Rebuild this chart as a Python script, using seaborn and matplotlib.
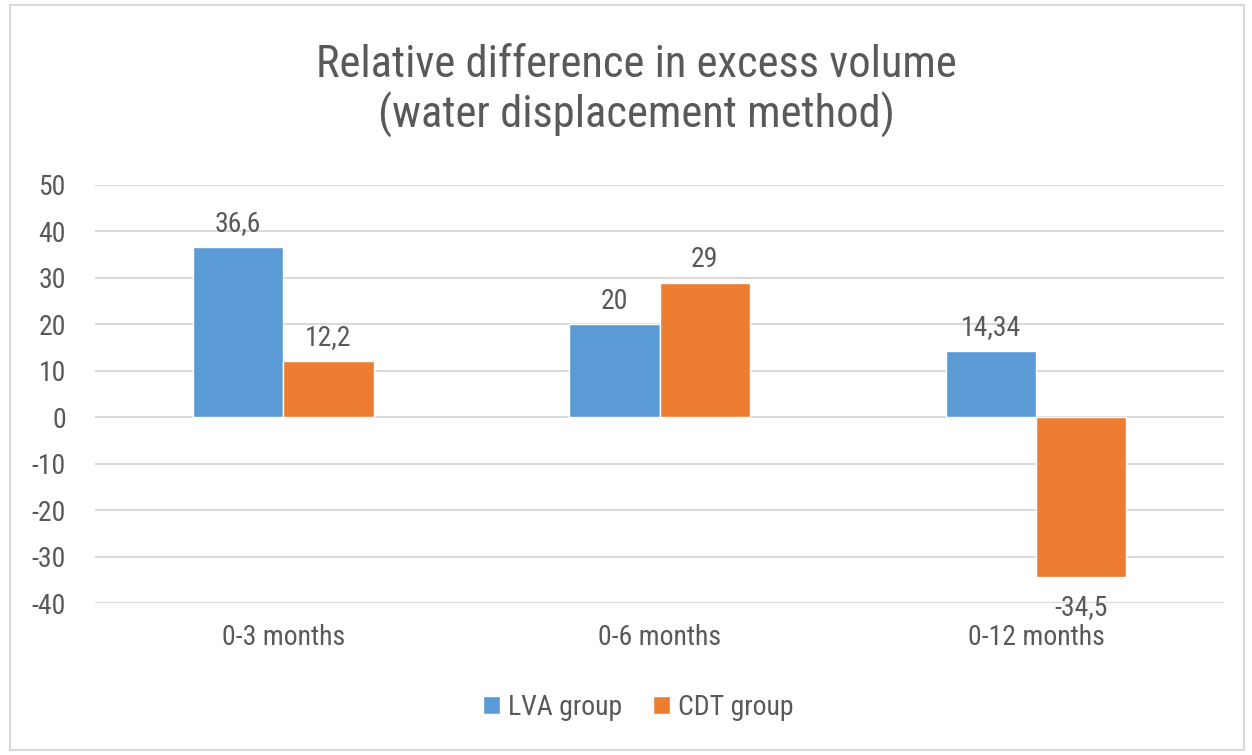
import matplotlib
matplotlib.use("Agg")
import matplotlib.pyplot as plt
import seaborn as sns
import pandas as pd
from matplotlib.patches import Rectangle
from matplotlib import font_manager

# data
periods = ["0-3 months", "0-6 months", "0-12 months"]
lva = [36.6, 20, 14.34]
cdt = [12.2, 29, -34.5]
groups = ["LVA group", "CDT group"]
colors = ["#5B9BD5", "#ED7D31"]

df = pd.DataFrame({
    "period": periods * 2,
    "value": lva + cdt,
    "group": [groups[0]] * 3 + [groups[1]] * 3,
})

# pick a narrow font if one is there
have = {f.name for f in font_manager.fontManager.ttflist}
narrow = [f for f in ["Liberation Sans Narrow", "Roboto Condensed", "Open Sans Condensed",
                      "DejaVu Sans Condensed", "Noto Sans Display", "Roboto", "Noto Sans"]
          if f in have]

sns.set_style("white")
plt.rcParams['font.family'] = narrow + ['DejaVu Sans']
plt.rcParams['font.stretch'] = 'condensed'
plt.rcParams['axes.unicode_minus'] = False
txt = "#595959"
fs = 20

fig = plt.figure(figsize=(12.52, 7.55), dpi=100)
ax = fig.add_axes([0.0759, 0.2013, 0.902, 0.5537])

sns.barplot(data=df, x="period", y="value", hue="group", palette=colors,
            width=0.48, gap=0, saturation=1, ax=ax, legend=True)

def fmt(v):
    return ("%g" % v).replace(".", ",")

for cont in ax.containers:
    for b in cont:
        h = b.get_height()
        x = b.get_x() + b.get_width() / 2
        if h >= 0:
            ax.annotate(fmt(h), (x, h), xytext=(0, 7), textcoords="offset points",
                        ha="center", va="bottom", fontsize=fs, color=txt)
        else:
            ax.annotate(fmt(h), (x, h), xytext=(0, -12), textcoords="offset points",
                        ha="center", va="top", fontsize=fs, color=txt)

ax.set_ylim(-40, 50)
ax.set_xlim(-0.5, 2.5)
ax.set_yticks(range(-40, 51, 10))
ax.yaxis.grid(True, color="#D9D9D9", linewidth=1.5)
ax.set_axisbelow(True)
for s in ax.spines.values():
    s.set_visible(False)
ax.tick_params(axis="both", length=0, labelsize=fs, colors=txt)
ax.tick_params(axis="y", pad=21)
ax.tick_params(axis="x", pad=15)
ax.set_xlabel("")
ax.set_ylabel("")

handles, labs = ax.get_legend_handles_labels()
ax.legend_.remove()
fig.legend(handles, labs, loc="center", bbox_to_anchor=(0.51, 0.063), ncol=2,
           frameon=False, fontsize=fs, labelcolor=txt, handlelength=0.6,
           handleheight=0.6, handletextpad=0.3, columnspacing=1.1)

fig.suptitle("Relative difference in excess volume\n(water displacement method)",
             x=0.508, y=0.942, fontsize=32, color=txt, linespacing=1.17)

fig.patches.append(Rectangle((0.008, 0.006), 0.986, 0.988, transform=fig.transFigure,
                             fill=False, edgecolor="#D9D9D9", linewidth=1.5))

fig.savefig("out.png", dpi=100)
